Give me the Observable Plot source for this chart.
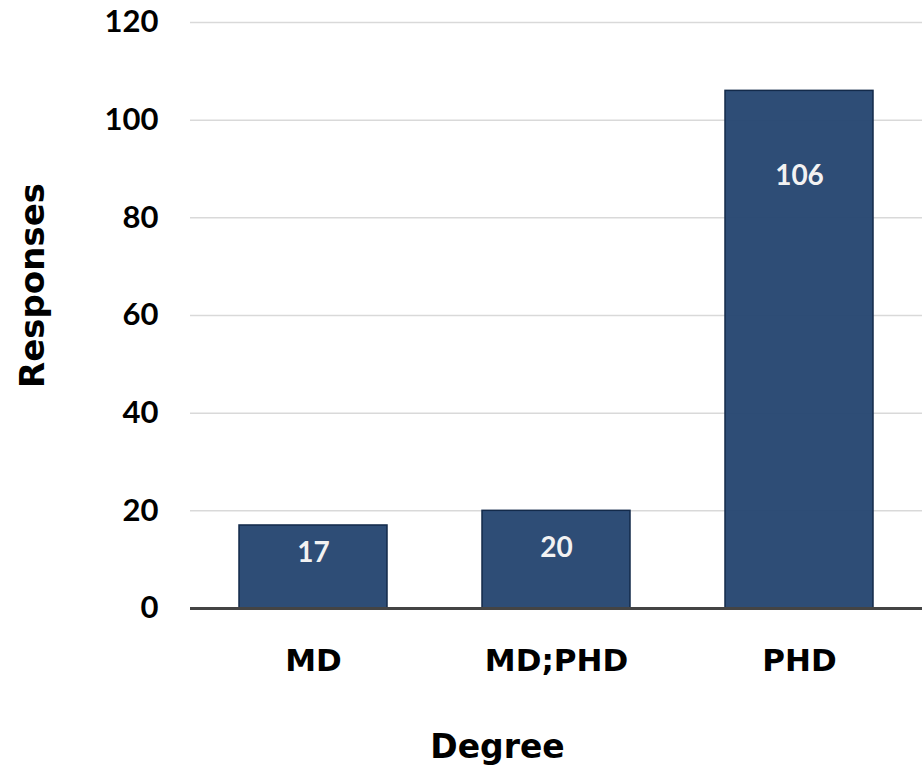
<!DOCTYPE html>
<html>
<head>
<meta charset="utf-8">
<script src="https://cdn.jsdelivr.net/npm/d3@7"></script>
<script src="https://cdn.jsdelivr.net/npm/@observablehq/plot@0.6"></script>
<style>
  body { margin: 0; background: #fff; }
</style>
</head>
<body>
<div id="chart"></div>
<script>
const categories = ["MD", "MD;PHD", "PHD"];
const responses = [17, 20, 106];
const labelPos = [11.3, 12.3, 88.5];
const yTicks = [0, 20, 40, 60, 80, 100, 120];

const data = categories.map((c, i) => ({degree: c, value: responses[i], ly: labelPos[i]}));
const wide = "'DejaVu Sans', sans-serif";
const narrow = "Lato, 'DejaVu Sans', sans-serif";

const chart = Plot.plot({
  width: 923,
  height: 771,
  marginLeft: 190,
  marginRight: 1,
  marginTop: 22,
  marginBottom: 163,
  style: {fontFamily: narrow, background: "#fff"},
  x: {domain: categories, paddingInner: 0.39, paddingOuter: 0.2, label: null},
  y: {domain: [0, 120], ticks: yTicks, label: null},
  marks: [
    Plot.gridY(yTicks, {stroke: "#d9d9d9", strokeOpacity: 1, strokeWidth: 1.5}),
    Plot.barY(data, {x: "degree", y: "value", fill: "#254670", fillOpacity: 0.96, stroke: "#132a4a", strokeWidth: 1.5}),
    Plot.ruleY([0], {stroke: "#444", strokeWidth: 3}),
    Plot.text(data, {x: "degree", y: "ly", text: d => String(d.value), fill: "#f2f2f2", fontSize: 28, fontWeight: "bold", fontFamily: narrow}),
    Plot.axisY(yTicks, {tickSize: 0, tickPadding: 32, fontSize: 31, fontWeight: "bold", fill: "#000", fontFamily: narrow, label: null}),
    Plot.axisX({tickSize: 0, tickPadding: 40, fontSize: 31, fontWeight: "bold", fill: "#000", fontFamily: wide, label: null}),
    Plot.text(["Responses"], {frameAnchor: "left", textAnchor: "middle", rotate: -90, dx: -157, dy: -30, fontSize: 34, fontWeight: "bold", fill: "#000", fontFamily: wide}),
    Plot.text(["Degree"], {frameAnchor: "bottom", textAnchor: "middle", dx: -59, dy: 149, fontSize: 33, fontWeight: "bold", fill: "#000", fontFamily: wide})
  ]
});
document.getElementById("chart").appendChild(chart);
</script>
</body>
</html>
